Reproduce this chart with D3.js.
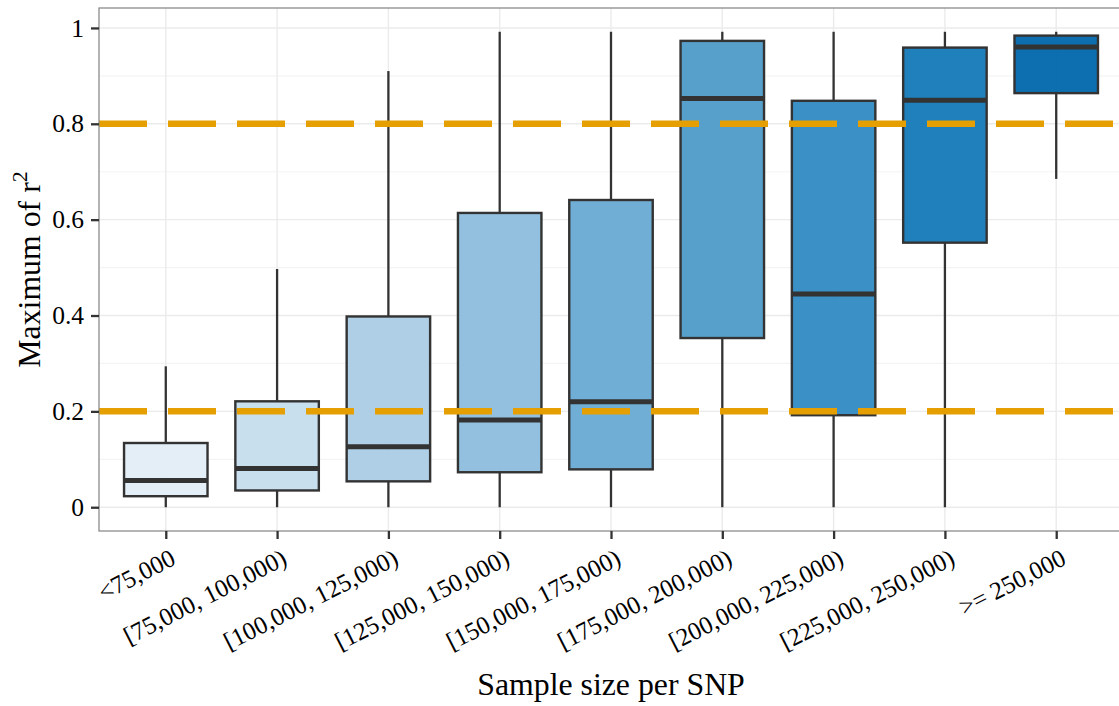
<!DOCTYPE html>
<html>
<head>
<meta charset="utf-8">
<script src="https://cdn.jsdelivr.net/npm/d3@7"></script>
<style>
html, body { margin: 0; padding: 0; background: #fff; }
svg { display: block; font-family: "Liberation Serif", "Times New Roman", serif; }
</style>
</head>
<body>
<svg id="chart" width="1119" height="706"></svg>
<script>
// ---- data ----
const categories = ["<75,000", "[75,000, 100,000)", "[100,000, 125,000)", "[125,000, 150,000)",
  "[150,000, 175,000)", "[175,000, 200,000)", "[200,000, 225,000)", "[225,000, 250,000)", ">= 250,000"];
const whiskerLow  = [0, 0, 0, 0, 0, 0, 0, 0, 0.685];
const q1          = [0.023, 0.035, 0.054, 0.073, 0.079, 0.353, 0.192, 0.552, 0.864];
const medians     = [0.056, 0.081, 0.126, 0.182, 0.220, 0.853, 0.445, 0.849, 0.960];
const q3          = [0.134, 0.221, 0.398, 0.614, 0.641, 0.973, 0.848, 0.959, 0.984];
const whiskerHigh = [0.294, 0.497, 0.910, 0.992, 0.992, 0.992, 0.992, 0.992, 0.992];
const thresholds  = [0.2, 0.8];
const yTicks      = [0, 0.2, 0.4, 0.6, 0.8, 1];
const yTickLabels = ["0", "0.2", "0.4", "0.6", "0.8", "1"];
const yMinor      = [0.1, 0.3, 0.5, 0.7, 0.9];
const fillColors  = ["#e1edf5", "#c5dded", "#aacce5", "#8cbddc", "#68aad3", "#4d9bc8", "#308ac3", "#1379b8", "#0067ac"];
const xTitle = "Sample size per SNP";

// ---- layout ----
const panel = { left: 99, right: 1123, top: 8, bottom: 531 };
const svg = d3.select("#chart");

const y = d3.scaleLinear().domain([-0.0496, 1.0416]).range([panel.bottom, panel.top]);
const x = d3.scalePoint().domain(categories).range([panel.left, panel.right]).padding(0.6);
const boxW = x.step() * 0.75;

const rows = categories.map((c, i) => ({
  cat: c, lo: whiskerLow[i], q1: q1[i], med: medians[i], q3: q3[i], hi: whiskerHigh[i], color: fillColors[i]
}));

const clipId = "panelClip";
svg.append("clipPath").attr("id", clipId).append("rect")
  .attr("x", panel.left).attr("y", panel.top)
  .attr("width", panel.right - panel.left).attr("height", panel.bottom - panel.top);

const g = svg.append("g").attr("clip-path", `url(#${clipId})`);

// minor grid
g.selectAll("line.minor").data(yMinor).join("line")
  .attr("x1", panel.left).attr("x2", panel.right)
  .attr("y1", d => y(d)).attr("y2", d => y(d))
  .attr("stroke", "#f4f4f4").attr("stroke-width", 1.2);
// major grid
g.selectAll("line.major").data(yTicks).join("line")
  .attr("x1", panel.left).attr("x2", panel.right)
  .attr("y1", d => y(d)).attr("y2", d => y(d))
  .attr("stroke", "#ebebeb").attr("stroke-width", 1.4);
g.selectAll("line.vgrid").data(categories).join("line")
  .attr("x1", d => x(d)).attr("x2", d => x(d))
  .attr("y1", panel.top).attr("y2", panel.bottom)
  .attr("stroke", "#ebebeb").attr("stroke-width", 1.4);

// whiskers
g.selectAll("line.wlo").data(rows).join("line")
  .attr("x1", d => x(d.cat)).attr("x2", d => x(d.cat))
  .attr("y1", d => y(d.lo)).attr("y2", d => y(d.q1))
  .attr("stroke", "#333").attr("stroke-width", 2.3);
g.selectAll("line.whi").data(rows).join("line")
  .attr("x1", d => x(d.cat)).attr("x2", d => x(d.cat))
  .attr("y1", d => y(d.hi)).attr("y2", d => y(d.q3))
  .attr("stroke", "#333").attr("stroke-width", 2.3);

// boxes
g.selectAll("rect.box").data(rows).join("rect")
  .attr("x", d => x(d.cat) - boxW / 2)
  .attr("width", boxW)
  .attr("y", d => y(d.q3))
  .attr("height", d => y(d.q1) - y(d.q3))
  .attr("fill", d => d.color).attr("fill-opacity", 0.95)
  .attr("stroke", "#333").attr("stroke-width", 2.4);

// medians
g.selectAll("line.med").data(rows).join("line")
  .attr("x1", d => x(d.cat) - boxW / 2).attr("x2", d => x(d.cat) + boxW / 2)
  .attr("y1", d => y(d.med)).attr("y2", d => y(d.med))
  .attr("stroke", "#333").attr("stroke-width", 5);

// threshold lines
g.selectAll("line.thr").data(thresholds).join("line")
  .attr("x1", panel.left).attr("x2", panel.right)
  .attr("y1", d => y(d)).attr("y2", d => y(d))
  .attr("stroke", "#E69F00").attr("stroke-width", 6.5)
  .attr("stroke-dasharray", "48,21");

// panel border
svg.append("rect")
  .attr("x", panel.left).attr("y", panel.top)
  .attr("width", panel.right - panel.left).attr("height", panel.bottom - panel.top)
  .attr("fill", "none").attr("stroke", "#8c8c8c").attr("stroke-width", 1.3);

// y axis
const yAxis = svg.append("g").attr("transform", `translate(${panel.left},0)`)
  .call(d3.axisLeft(y).tickValues(yTicks).tickSize(8).tickPadding(7)
    .tickFormat((d, i) => yTickLabels[i]));
yAxis.select(".domain").remove();
yAxis.selectAll(".tick line").attr("stroke", "#333").attr("stroke-width", 2.3);
yAxis.selectAll(".tick text").attr("fill", "#000")
  .style("font-family", "'Liberation Serif', serif").style("font-size", "25.5px");

// x axis
const xAxis = svg.append("g").attr("transform", `translate(0,${panel.bottom})`)
  .call(d3.axisBottom(x).tickSize(8).tickPadding(6));
xAxis.select(".domain").remove();
xAxis.selectAll(".tick line").attr("stroke", "#333").attr("stroke-width", 2.3);
xAxis.selectAll(".tick text")
  .attr("fill", "#000")
  .style("font-family", "'Liberation Serif', serif").style("font-size", "25px")
  .attr("text-anchor", "end")
  .attr("x", 0).attr("y", 0).attr("dy", "0.7em")
  .attr("transform", "translate(3,17) rotate(-27)");

// axis titles
svg.append("text")
  .attr("x", (panel.left + panel.right) / 2).attr("y", 695)
  .attr("text-anchor", "middle")
  .style("font-size", "31.8px").attr("fill", "#000")
  .text(xTitle);

const yt = svg.append("text")
  .attr("transform", `translate(40,${(panel.top + panel.bottom) / 2}) rotate(-90)`)
  .attr("text-anchor", "middle")
  .style("font-size", "31.8px").attr("fill", "#000");
yt.append("tspan").text("Maximum of r");
yt.append("tspan").attr("dy", -13).style("font-size", "22px").text("2");
</script>
</body>
</html>
